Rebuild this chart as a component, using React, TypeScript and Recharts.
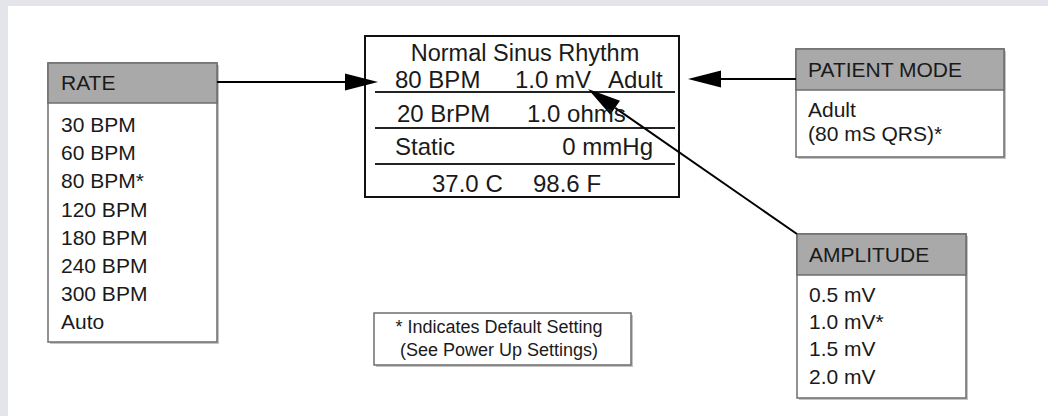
import {
  ComposedChart,
  ReferenceArea,
  ReferenceLine,
  Scatter,
  XAxis,
  YAxis,
} from "recharts";

const W = 1048;
const H = 416;

const rateOptions = ["30 BPM", "60 BPM", "80 BPM*", "120 BPM", "180 BPM", "240 BPM", "300 BPM", "Auto"];
const modeOptions = ["Adult", "(80 mS QRS)*"];
const ampOptions = ["0.5 mV", "1.0 mV*", "1.5 mV", "2.0 mV"];
const rhythmName = "Normal Sinus Rhythm";
const statusRows = [
  ["80 BPM", "1.0 mV", "Adult"],
  ["20 BrPM", "1.0 ohms"],
  ["Static", "0 mmHg"],
  ["37.0 C", "98.6 F"],
];
const footnote = ["* Indicates Default Setting", "(See Power Up Settings)"];

// diagram layout (pixel units == data units, axes span the full canvas)
const rateBox = { x1: 48, x2: 217, y1: 63, y2: 342, head: 103 };
const modeBox = { x1: 796, x2: 1004, y1: 49, y2: 157, head: 90 };
const ampBox = { x1: 797, x2: 966, y1: 234, y2: 398, head: 275 };
const statusBox = { x1: 365, x2: 679, y1: 36, y2: 197 };
const noteBox = { x1: 374, x2: 631, y1: 313, y2: 365 };
const separators = [92, 128, 164];
const statusBase = [88, 122, 155, 192];
const statusX = [
  [395, 515, 608],
  [397, 527],
  [395, 653],
  [432, 533],
];
const arrows = [
  { from: { x: 217, y: 82 }, to: { x: 378, y: 82 } },
  { from: { x: 796, y: 79 }, to: { x: 688, y: 79 } },
  { from: { x: 797, y: 234 }, to: { x: 588, y: 89 } },
];

const FONT = "'Liberation Sans', Arial, sans-serif";

type Txt = { x: number; y: number; t: string; size: number; anchor?: string };

const texts: Txt[] = [
  { x: rateBox.x1 + 13, y: 90, t: "RATE", size: 21 },
  ...rateOptions.map((t, i) => ({ x: rateBox.x1 + 13, y: 132 + i * 28.2, t, size: 21 })),
  { x: modeBox.x1 + 12, y: 77, t: "PATIENT MODE", size: 21 },
  ...modeOptions.map((t, i) => ({ x: modeBox.x1 + 12, y: 117 + i * 24, t, size: 21 })),
  { x: ampBox.x1 + 12, y: 262, t: "AMPLITUDE", size: 21 },
  ...ampOptions.map((t, i) => ({ x: ampBox.x1 + 12, y: 302 + i * 27.2, t, size: 21 })),
  { x: 525, y: 61, t: rhythmName, size: 23.5, anchor: "middle" },
  ...statusRows.flatMap((row, r) =>
    row.map((t, c) => ({
      x: statusX[r][c],
      y: statusBase[r],
      t,
      size: 24,
      anchor: r === 2 && c === 1 ? "end" : "start",
    }))
  ),
  ...footnote.map((t, i) => ({ x: 499, y: 333 + i * 23, t, size: 18, anchor: "middle" })),
];

const TextShape = (p: any) => {
  const d = p.payload as Txt;
  return (
    <text
      x={p.cx}
      y={p.cy}
      fontSize={d.size}
      fontFamily={FONT}
      fill="#1a1a1a"
      textAnchor={d.anchor || "start"}
    >
      {d.t}
    </text>
  );
};

const ArrowShape = (p: any) => {
  const { x1, y1, x2, y2 } = p;
  const ang = Math.atan2(y2 - y1, x2 - x1);
  const len = 33;
  const hw = 8.5;
  const bx = x2 - len * Math.cos(ang);
  const by = y2 - len * Math.sin(ang);
  const nx = -Math.sin(ang) * hw;
  const ny = Math.cos(ang) * hw;
  return (
    <g>
      <line x1={x1} y1={y1} x2={bx} y2={by} stroke="#000" strokeWidth={2} />
      <polygon points={`${x2},${y2} ${bx + nx},${by + ny} ${bx - nx},${by - ny}`} fill="#000" />
    </g>
  );
};

function boxAreas(b: { x1: number; x2: number; y1: number; y2: number; head?: number }, key: string) {
  const out = [
    <ReferenceArea
      key={key + "s"}
      x1={b.x1 + 2}
      x2={b.x2 + 2}
      y1={b.y1 + 2}
      y2={b.y2 + 2}
      fill="#c4c4c4"
      fillOpacity={1}
      stroke="none"
    />,
    <ReferenceArea
      key={key + "b"}
      x1={b.x1}
      x2={b.x2}
      y1={b.y1}
      y2={b.y2}
      fill="#fff"
      fillOpacity={1}
      stroke="#6e6e6e"
      strokeWidth={1.5}
    />,
  ];
  if (b.head) {
    out.push(
      <ReferenceArea
        key={key + "h"}
        x1={b.x1}
        x2={b.x2}
        y1={b.y1}
        y2={b.head}
        fill="#a9a9a9"
        fillOpacity={1}
        stroke="#6e6e6e"
        strokeWidth={1.5}
      />
    );
  }
  return out;
}

export default function App() {
  return (
    <div style={{ position: "absolute", left: 0, top: 0, width: W, height: H, background: "#e3e5ea" }}>
      <ComposedChart width={W} height={H} margin={{ top: 0, right: 0, bottom: 0, left: 0 }}>
        <XAxis type="number" dataKey="x" domain={[0, W]} hide allowDataOverflow />
        <YAxis type="number" dataKey="y" domain={[0, H]} reversed hide allowDataOverflow />
        <ReferenceArea x1={8} x2={W} y1={6} y2={H} fill="#fff" fillOpacity={1} stroke="none" />
        {boxAreas(rateBox, "rate")}
        {boxAreas(modeBox, "mode")}
        {boxAreas(ampBox, "amp")}
        {boxAreas(noteBox, "note")}
        <ReferenceArea
          x1={statusBox.x1}
          x2={statusBox.x2}
          y1={statusBox.y1}
          y2={statusBox.y2}
          fill="#fff"
          fillOpacity={1}
          stroke="#111"
          strokeWidth={2}
        />
        {separators.map((y) => (
          <ReferenceLine
            key={y}
            segment={[
              { x: 375, y },
              { x: 675, y },
            ]}
            stroke="#222"
            strokeWidth={2}
          />
        ))}
        <Scatter data={texts} shape={TextShape} isAnimationActive={false} />
        {arrows.map((a, i) => (
          <ReferenceLine key={"a" + i} segment={[a.from, a.to]} shape={ArrowShape} />
        ))}
      </ComposedChart>
    </div>
  );
}
